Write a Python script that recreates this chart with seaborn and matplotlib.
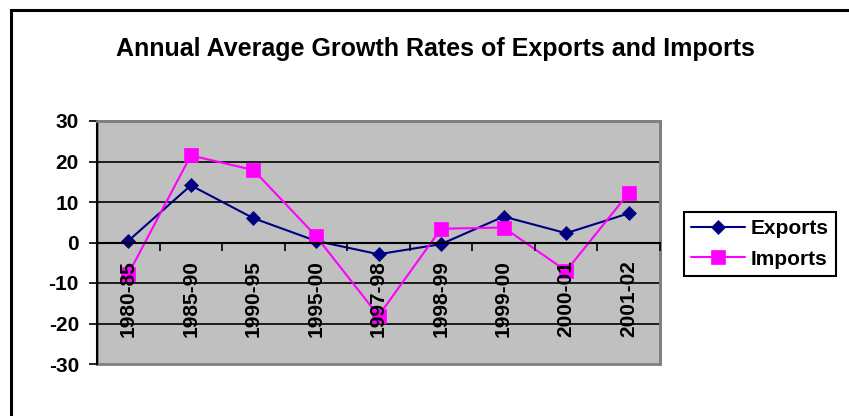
# Annual average growth rates of exports and imports
import numpy as np
import pandas as pd
import seaborn as sns
import matplotlib.pyplot as plt
from matplotlib.patches import Rectangle

periods = ["1980-85", "1985-90", "1990-95", "1995-00", "1997-98",
           "1998-99", "1999-00", "2000-01", "2001-02"]
exports = [0.4, 14.1, 6.0, 0.4, -2.9, -0.4, 6.4, 2.3, 7.2]
imports = [-7.8, 21.5, 17.9, 1.6, -18.1, 3.4, 3.7, -7.0, 12.2]
y_ticks = [30, 20, 10, 0, -10, -20, -30]

pos = np.arange(len(periods))
df = pd.DataFrame({"pos": pos, "period": periods, "Exports": exports, "Imports": imports})

sns.set_theme(style="white")
plt.rcParams["font.family"] = ["Liberation Sans", "DejaVu Sans"]
plt.rcParams["font.weight"] = "bold"
plt.rcParams["text.color"] = "black"
plt.rcParams["xtick.labelcolor"] = "black"
plt.rcParams["ytick.labelcolor"] = "black"

fig = plt.figure(figsize=(8.49, 4.16), dpi=100)
ax = fig.add_axes([97 / 849, 1 - 364 / 416, (660 - 97) / 849, (364 - 121) / 416])
ax.set_facecolor("#c0c0c0")

# series
sns.lineplot(data=df, x="pos", y="Exports", ax=ax, color="#000080", marker="D",
             markersize=7, markeredgecolor="#000080", markeredgewidth=0.5,
             linewidth=1.5, label="Exports")
sns.lineplot(data=df, x="pos", y="Imports", ax=ax, color="#ff00ff", marker="s",
             markersize=10.5, markeredgecolor="#ff00ff", markeredgewidth=0.5,
             linewidth=1.5, label="Imports")

ax.set_xlim(-0.5, len(periods) - 0.5)
ax.set_ylim(-30, 30)
ax.set_xlabel(None)
ax.set_ylabel(None)

# y axis
ax.set_yticks(y_ticks)
ax.set_yticklabels([str(v) for v in y_ticks])
ax.tick_params(axis="y", left=True, length=6, width=1.2, direction="out",
               color="black", pad=7, labelsize=15, labelcolor="black")
ax.yaxis.grid(True, color="black", linewidth=1.2)
ax.xaxis.grid(False)
for t in ax.yaxis.get_major_ticks():
    if abs(t.get_loc()) == 30:
        t.gridline.set_visible(False)

# x axis: ticks between categories, labels at centres
ax.set_xticks(np.arange(-0.5, len(periods), 1))
ax.set_xticklabels([])
ax.set_xticks(pos, minor=True)
ax.set_xticklabels(periods, minor=True)
ax.tick_params(axis="x", which="major", bottom=True, length=6, width=1.2,
               direction="out", color="black")
ax.tick_params(axis="x", which="minor", bottom=True, length=0, pad=13,
               labelrotation=90, labelsize=15, labelcolor="black")
ax.xaxis.set_zorder(5)

# spines
ax.spines["bottom"].set_position(("data", 0))
ax.spines["bottom"].set_color("black")
ax.spines["bottom"].set_linewidth(1.5)
ax.spines["left"].set_color("black")
ax.spines["left"].set_linewidth(1.5)
for s in ["top", "right"]:
    ax.spines[s].set_color("#808080")
    ax.spines[s].set_linewidth(2)
ax.patch.set_edgecolor("#808080")
ax.patch.set_linewidth(2)

# legend
leg = ax.legend(loc="center", bbox_to_anchor=(760 / 849, 1 - 244 / 416),
                bbox_transform=fig.transFigure, fancybox=False, framealpha=1,
                edgecolor="black", prop={"size": 15, "weight": "bold"},
                handlelength=2.6, handletextpad=0.25, borderpad=0.35,
                labelspacing=0.55, borderaxespad=0)
leg.get_frame().set_linewidth(1.5)
for txt in leg.get_texts():
    txt.set_color("black")

# title and outer frame
fig.text(435 / 849, 1 - 49 / 416, "Annual Average Growth Rates of Exports and Imports",
         ha="center", va="center", fontsize=18, fontweight="bold", color="black")
fig.add_artist(Rectangle((11 / 849, -0.2), 1.5, 1.2 - 9.5 / 416, transform=fig.transFigure,
                         fill=False, edgecolor="black", linewidth=2.2))

fig.savefig("out.png", dpi=100)
